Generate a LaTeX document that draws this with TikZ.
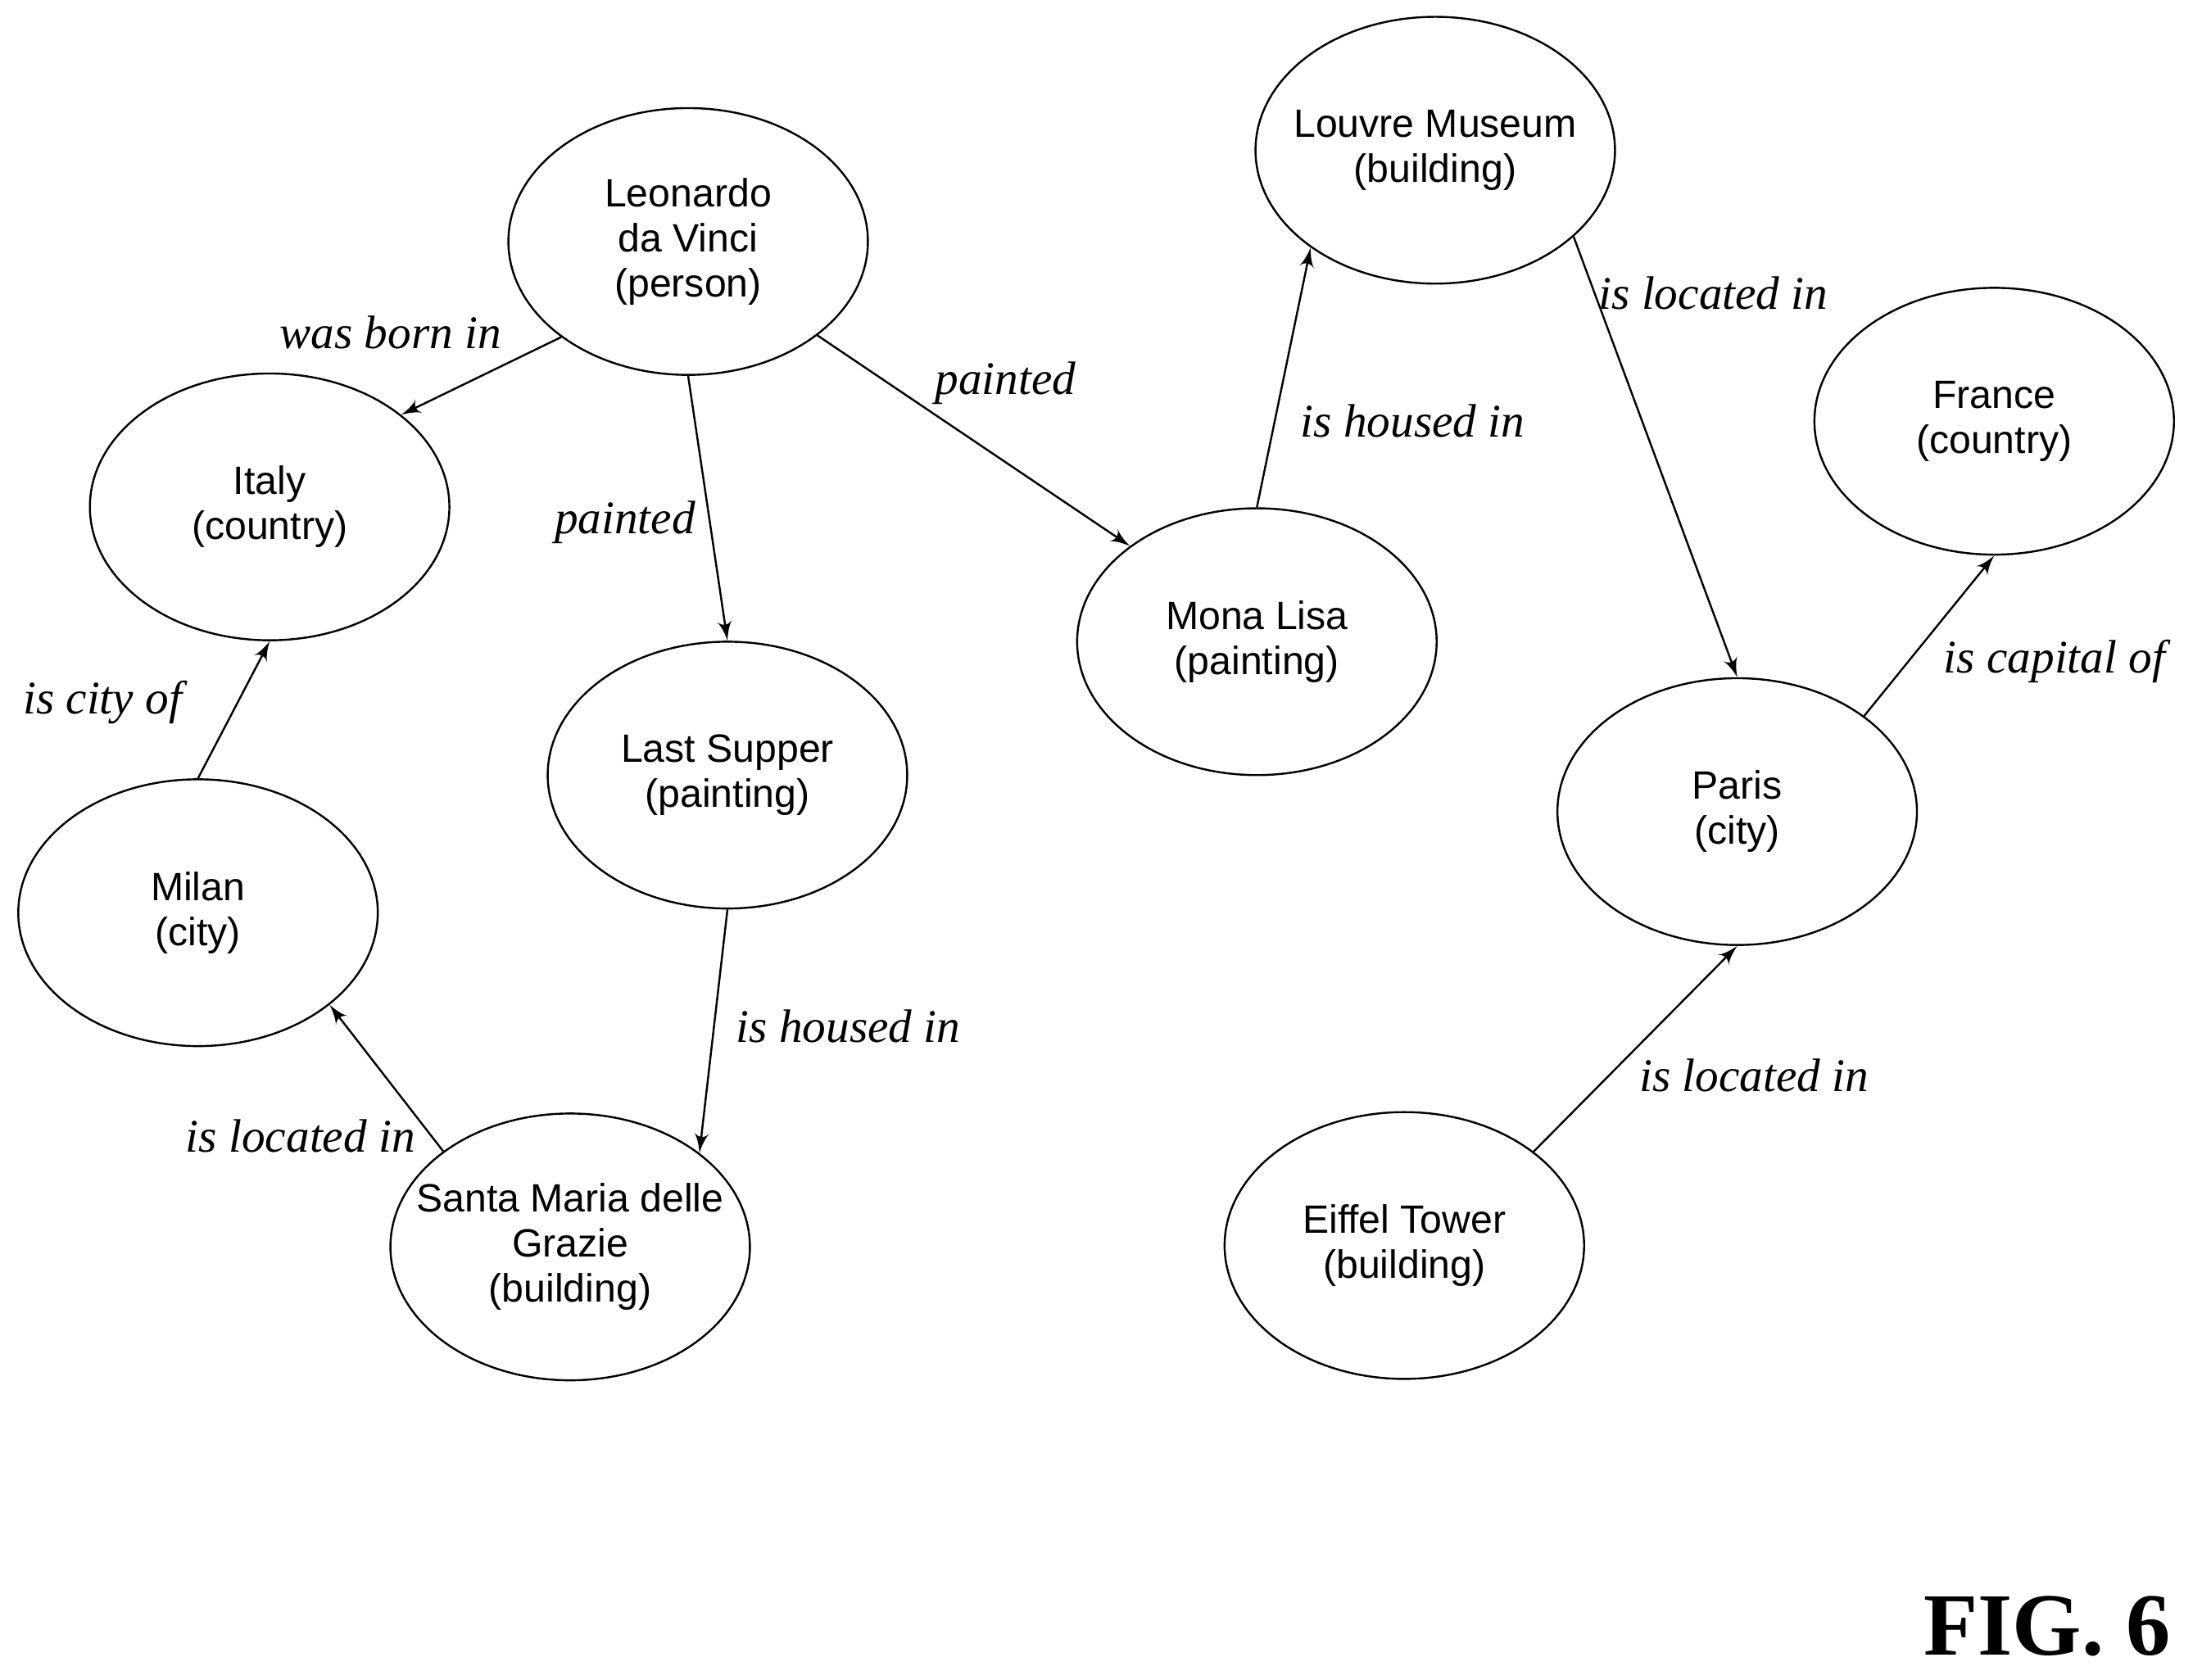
\documentclass[tikz,border=0pt]{standalone}
\usepackage{fontspec}
\setmainfont{Liberation Serif}
\setsansfont{Liberation Sans}
\usepackage{tikz}
\usetikzlibrary{shapes,arrows}
\tikzstyle{line} = [draw, -latex']
\tikzstyle{entity} = [draw, ellipse, minimum width=2.56cm, minimum height=1.9cm, inner xsep=-7pt, inner ysep=-3pt, align=center, font=\sffamily\fontsize{8}{9.1}\selectfont]
\tikzstyle{rel} = [font=\itshape\fontsize{9.5}{10}\selectfont]

\begin{document}
\begin{tikzpicture}
	\useasboundingbox (0,0) rectangle (15.68,11.96);
	\node [entity] (leonardo) at (4.90,10.24) {Leonardo\\da Vinci\\(person)};
	\node [entity] (italy) at (1.92,8.35) {Italy\\(country)};
	\node [entity] (supper) at (5.18,6.44) {Last Supper\\(painting)};
	\node [entity] (mona) at (8.95,7.39) {Mona Lisa\\(painting)};
	\node [entity] (louvre) at (10.22,10.89) {Louvre Museum\\(building)};
	\node [entity] (france) at (14.20,8.96) {France\\(country)};
	\node [entity] (paris) at (12.37,6.18) {Paris\\(city)};
	\node [entity] (milan) at (1.41,5.46) {Milan\\(city)};
	\node [entity] (santa) at (4.06,3.08) {Santa Maria delle\\Grazie\\(building)};
	\node [entity] (eiffel) at (10.00,3.09) {Eiffel Tower\\(building)};
	
	\path [line] (leonardo.217) to (italy.35);
	\path [line] (leonardo.270) to (supper.90);
	\path [line] (leonardo.-36) to (mona.143);
	\path [line] (mona.90) to (louvre.218);
	\path [line] (louvre.-32) to (paris.90);
	\path [line] (paris.37) to (france.270);
	\path [line] (eiffel.36) to (paris.270);
	\path [line] (supper.270) to (santa.36);
	\path [line] (santa.143) to (milan.-35);
	\path [line] (milan.90) to (italy.270);
	
	\node [rel] (bornin) at (2.78,9.59) {was born in};
	\node [rel] (painted1) at (4.45,8.24) {painted};
	\node [rel] (painted2) at (7.16,9.23) {painted};
	\node [rel] (housed1) at (10.06,8.96) {is housed in};
	\node [rel] (located1) at (12.20,9.87) {is located in};
	\node [rel] (capital) at (14.63,7.25) {is capital of};
	\node [rel] (cityof) at (0.73,6.96) {is city of};
	\node [rel] (housed2) at (6.04,4.65) {is housed in};
	\node [rel] (located2) at (2.14,3.87) {is located in};
	\node [rel] (located3) at (12.49,4.30) {is located in};
	
	\node [font=\bfseries\fontsize{18}{18}\selectfont, anchor=east] (fig) at (15.58,0.38) {FIG. 6};
\end{tikzpicture}
\end{document}
